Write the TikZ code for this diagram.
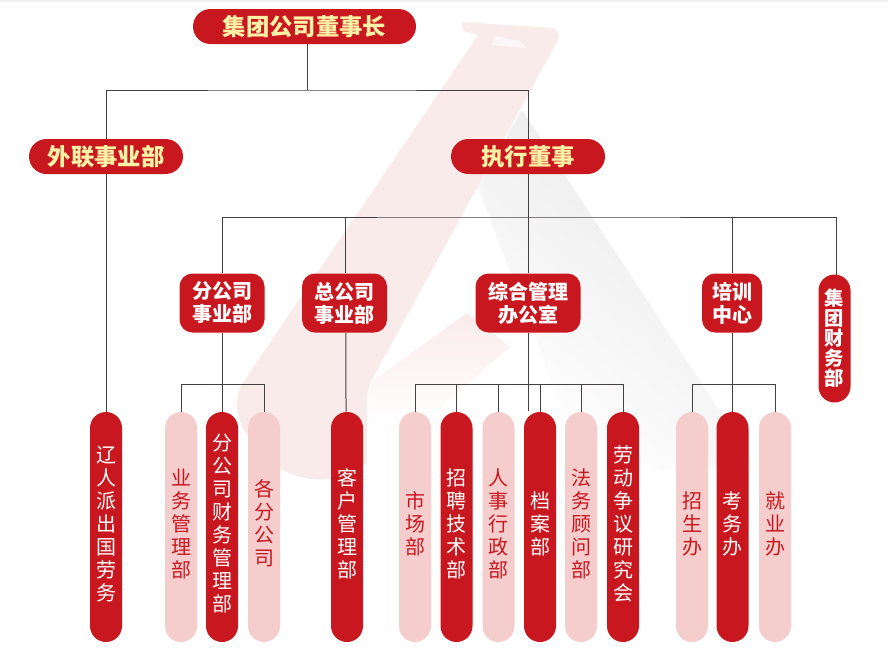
\documentclass[tikz,border=0pt]{standalone}
\usepackage{fontspec}
\setmainfont{Noto Sans CJK SC}
\usetikzlibrary{positioning,calc}
\definecolor{dangred}{HTML}{C8171E}
\definecolor{palered}{HTML}{F6CDCD}
\definecolor{headyellow}{HTML}{FFF2A6}
\definecolor{linegray}{HTML}{454041}
\definecolor{markred}{HTML}{FAEBEB}
\definecolor{marksoft}{HTML}{FDF6F6}
\definecolor{markgray}{HTML}{E9E9E9}
\tikzset{
    headbox/.style={fill=dangred,text=headyellow,rounded corners=17.5*0.75pt,minimum height=35*0.75pt,
        inner sep=0pt,font=\fontsize{17.5pt}{21pt}\bfseries},
    deptbox/.style={fill=dangred,text=white,rounded corners=13*0.75pt,minimum height=59*0.75pt,
        inner sep=0pt,align=center,text depth=1.5pt,font=\fontsize{15pt}{17.25pt}\bfseries},
    darkpill/.style={fill=dangred,text=white,rounded corners=16*0.75pt,minimum width=32*0.75pt,
        minimum height=230*0.75pt,inner sep=0pt,align=center,text depth=6pt,
        font=\fontsize{15pt}{17.25pt}\selectfont},
    palepill/.style={darkpill,fill=palered,text=dangred},
    link/.style={linegray,line width=0.75pt}
}
\begin{document}
\begin{tikzpicture}[x=0.75pt,y=-0.75pt]
    \useasboundingbox (0,0) rectangle (888,661);

    % Pale mark behind the chart
    \fill[black!6] (0,0) rectangle (888,2);
    \shade[top color=white,middle color=black!3,bottom color=white] (170,410) rectangle (570,510);
    \shade[top color=markgray,bottom color=white,shading angle=-40]
        (522,110) -- (717,407) -- (753,465) -- (660,470) -- (570,430) -- (478,187) -- cycle;
    % the crossing stroke fades out downwards
    \shade[top color=markred,bottom color=white]
        (370,383) -- (467,313) -- (510,347) -- (420,425) -- (367,425) -- cycle;
    \fill[markred] (463,22) -- (552,28) .. controls (560,30) and (560,36) .. (557,42) -- (370,383)
        -- (367,395) -- (367,462) .. controls (345,482) and (305,487) .. (275,465)
        .. controls (245,440) and (230,415) .. (240,387) -- (478,35) -- (465,31)
        .. controls (461,29) and (461,25) .. (463,22) -- cycle;
    \fill[marksoft] (495,36) -- (520,41) -- (526,48) -- (492,45) -- cycle;

    % Top two levels
    \node[headbox,minimum width=223*0.75pt] (chair) at (304.5,26.5) {集团公司董事长};
    \node[headbox,minimum width=154*0.75pt] (liaison) at (106,156.5) {外联事业部};
    \node[headbox,minimum width=154*0.75pt] (exec) at (528,156.5) {执行董事};

    % Departments
    \node[deptbox,minimum width=85*0.75pt] (branch) at (222,303) {分公司\\事业部};
    \node[deptbox,minimum width=85*0.75pt] (head) at (344.5,303) {总公司\\事业部};
    \node[deptbox,minimum width=105*0.75pt] (admin) at (528,303) {综合管理\\办公室};
    \node[deptbox,minimum width=60*0.75pt] (train) at (732,303) {培训\\中心};
    \node[deptbox,minimum width=32*0.75pt,minimum height=128*0.75pt,rounded corners=16*0.75pt,
        font=\fontsize{14.5pt}{15pt}\bfseries] (finance) at (834.5,338.5) {集\\团\\财\\务\\部};

    % Bottom row
    \node[darkpill] (labour) at (106,527) {辽\\人\\派\\出\\国\\劳\\务};
    \node[palepill] (biz) at (181,527) {业\\务\\管\\理\\部};
    \node[darkpill] (acct) at (222,527) {分\\公\\司\\财\\务\\管\\理\\部};
    \node[palepill] (subs) at (264,527) {各\\分\\公\\司};
    \node[darkpill] (client) at (347,527) {客\\户\\管\\理\\部};
    \node[palepill] (market) at (415,527) {市\\场\\部};
    \node[darkpill] (hire) at (456.5,527) {招\\聘\\技\\术\\部};
    \node[palepill] (staff) at (498.5,527) {人\\事\\行\\政\\部};
    \node[darkpill] (files) at (540,527) {档\\案\\部};
    \node[palepill] (legal) at (581,527) {法\\务\\顾\\问\\部};
    \node[darkpill] (study) at (623,527) {劳\\动\\争\\议\\研\\究\\会};
    \node[palepill] (enrol) at (692,527) {招\\生\\办};
    \node[darkpill] (exam) at (732.5,527) {考\\务\\办};
    \node[palepill] (jobs) at (775,527) {就\\业\\办};

    % Junctions
    \coordinate (chairfoot) at (307,44);
    \coordinate (topjoin) at (307,90);
    \coordinate (execjoin) at (528,217);
    \coordinate (financetop) at (836,275);
    \coordinate (branchjoin) at (222,384.5);
    \coordinate (adminjoin) at (528,384.5);
    \coordinate (trainjoin) at (732,384.5);
    \coordinate (adminend) at (528,411);

    % Connectors
    \draw[link] (chairfoot) -- (topjoin);
    \draw[link] (liaison.north) |- (topjoin) -| (exec.north);
    \draw[link] (liaison.south) -- (labour.north);
    \draw[link] (exec.south) -- (admin.north);
    \draw[link] (branch.north) |- (execjoin) -| (financetop);
    \draw[link] ([xshift=1.1pt]head.north) -- ([xshift=1.1pt]head.north |- execjoin);
    \draw[link] (train.north) -- (train.north |- execjoin);
    \draw[link] (branch.south) -- (acct.north);
    \draw[link] ([xshift=1.1pt]head.south) -- ([xshift=-0.75pt]client.north);
    \draw[link] (admin.south) -- (adminend);
    \draw[link] (train.south) -- (train.south |- exam.north);
    % Brackets
    \draw[link] (biz.north) |- (branchjoin) -| (subs.north);
    \draw[link] (market.north) |- (adminjoin) -| (study.north);
    \foreach \dept in {hire,staff,files,legal}
        \draw[link] (\dept.north) -- (\dept.north |- adminjoin);
    \draw[link] (enrol.north) |- (trainjoin) -| (jobs.north);
\end{tikzpicture}
\end{document}
